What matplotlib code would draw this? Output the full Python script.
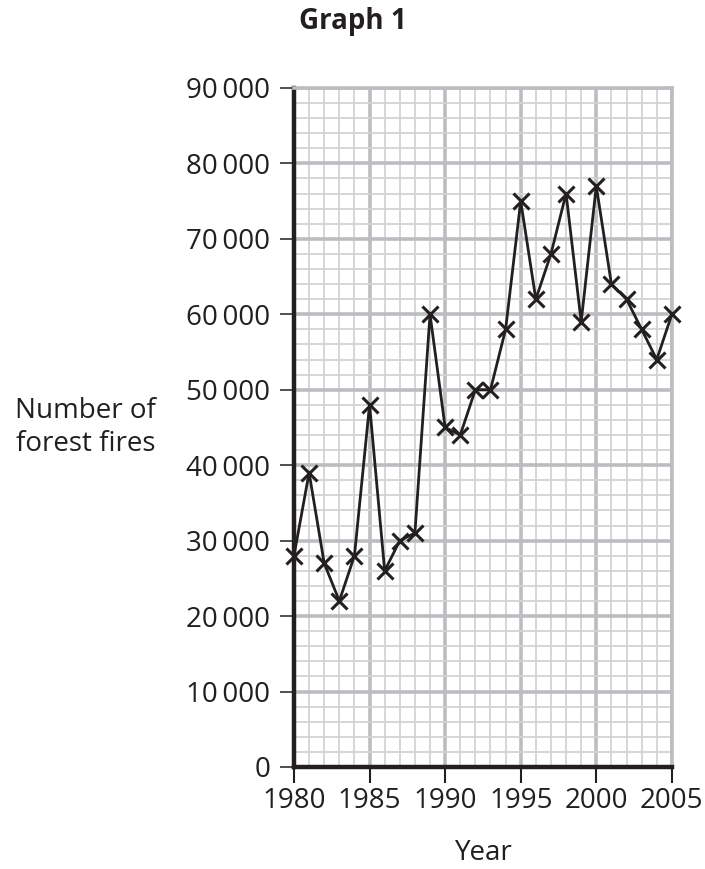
import numpy as np
import matplotlib.pyplot as plt
from matplotlib.ticker import MultipleLocator, FuncFormatter

plt.rcParams['font.family'] = ['Open Sans', 'DejaVu Sans']

years = np.arange(1980, 2006)
fires = [28000, 39000, 27000, 22000, 28000, 48000, 26000, 30000, 31000, 60000,
         45000, 44000, 50000, 50000, 58000, 75000, 62000, 68000, 76000, 59000,
         77000, 64000, 62000, 58000, 54000, 60000]

fig = plt.figure(figsize=(7.05, 8.69), dpi=100)
ax = fig.add_axes([0.417, 0.1174, 0.536, 0.7814])

ax.set_xlim(1980, 2005)
ax.set_ylim(0, 90000)
ax.xaxis.set_major_locator(MultipleLocator(5))
ax.xaxis.set_minor_locator(MultipleLocator(1))
ax.yaxis.set_major_locator(MultipleLocator(10000))
ax.yaxis.set_minor_locator(MultipleLocator(2000))
ax.yaxis.set_major_formatter(FuncFormatter(lambda v, p: f"{int(v):,}".replace(",", "\u2009") if v >= 10000 else f"{int(v)}"))

ax.grid(which='minor', color='#d2d3d5', lw=1.3)
ax.grid(which='major', color='#bcbdc0', lw=2.6)
ax.set_axisbelow(True)

for s in ['top', 'right']:
    ax.spines[s].set_color('#bcbdc0')
    ax.spines[s].set_linewidth(2.6)
for s in ['left', 'bottom']:
    ax.spines[s].set_color('#231f20')
    ax.spines[s].set_linewidth(3.2)

ax.tick_params(which='major', color='#231f20', labelsize=20, labelcolor='#231f20')
ax.tick_params(axis='x', which='major', length=11.5, width=1.5, pad=3)
ax.tick_params(axis='y', which='major', length=10, width=1.1, pad=7)
ax.tick_params(which='minor', length=0)

ax.plot(years, fires, color='#231f20', lw=2, marker='x', ms=12, mew=2.2, clip_on=False, zorder=5)

# titles and axis labels placed in figure coordinates
fig.text(0.501, 0.975, 'Graph 1', ha='center', va='center', fontsize=20, fontweight='bold', color='#231f20')
fig.text(0.121, 0.508, 'Number of\nforest fires', ha='center', va='center', fontsize=20, color='#231f20', linespacing=1.2)
fig.text(0.686, 0.018, 'Year', ha='center', va='center', fontsize=20, color='#231f20')

fig.savefig('out.png', dpi=100)
